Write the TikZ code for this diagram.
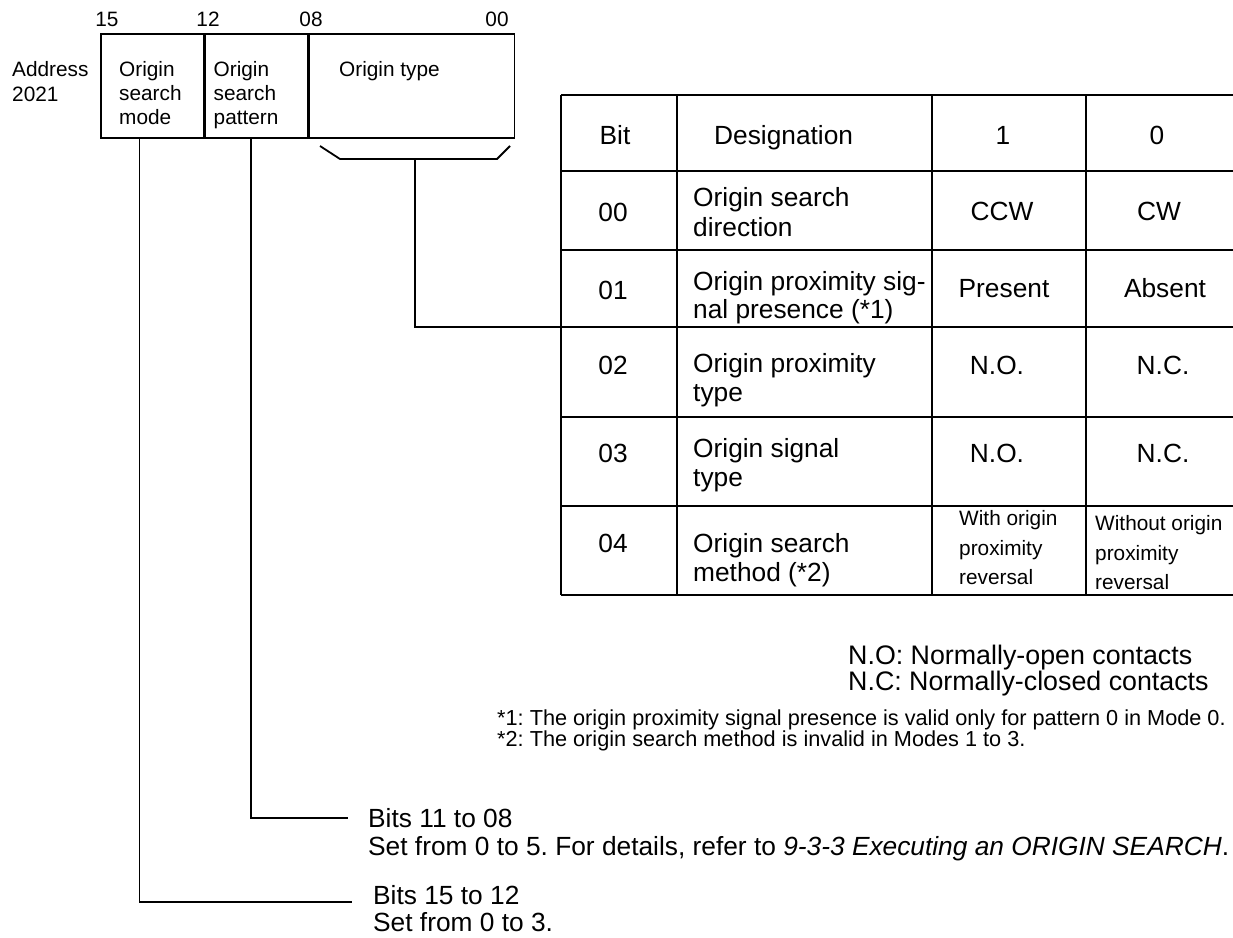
\documentclass[tikz,border=0pt]{standalone}
\usepackage{fontspec}
\setmainfont{Liberation Sans}
\frenchspacing
\newcommand{\regfont}{\fontsize{20.8}{24}\selectfont}
\newcommand{\tabfont}{\fontsize{26.3}{29}\selectfont}
\newcommand{\smallfont}{\fontsize{20.8}{29}\selectfont}
\newcommand{\legendfont}{\fontsize{26.8}{29}\selectfont}
\newcommand{\notefont}{\fontsize{21.7}{22}\selectfont}
\tikzset{
  txt/.style  = {anchor=base west, inner sep=0pt},
  ctxt/.style = {anchor=base, inner sep=0pt},
  rule/.style = {line width=1.8pt},
  field/.style = {draw, rule, anchor=north west, minimum height=104pt, inner sep=0pt}
}

\begin{document}
\begin{tikzpicture}[x=1pt,y=-1pt]
	\useasboundingbox (0,0) rectangle (1233,937);
	% register 2021
	\node[field, minimum width=102.5pt] (mode) at (100,33) {};
	\node[field, minimum width=102.5pt] (pattern) at (mode.north east) {};
	\node[field, minimum width=205pt] (type) at (pattern.north east) {};
	\begin{scope}[font=\regfont]
		\node[ctxt] (b15) at (107,26) {15};
		\node[ctxt] (b12) at (208,26) {12};
		\node[ctxt] (b08) at (311,26) {08};
		\node[ctxt] (b00) at (497,26) {00};
		\node[txt] (addr) at (12,76) {Address};
		\node[txt] (addrno) at (12,101) {2021};
		\foreach \t [count=\i from 0] in {Origin,search,mode}
			\node[txt] (modeln\i) at (119,76+24*\i) {\t};
		\foreach \t [count=\i from 0] in {Origin,search,pattern}
			\node[txt] (patln\i) at (213.5,76+24*\i) {\t};
		\node[txt] (typeln) at (339,76) {Origin type};
	\end{scope}
	% bracket under the origin type bits
	\coordinate (br1) at (320,146);
	\coordinate (br2) at (340,159);
	\coordinate (br3) at (497,159);
	\coordinate (br4) at (510,146);
	\coordinate (brtap) at (415,159);
	\draw[rule] (br1) -- (br2) -- (br3) -- (br4);
	% bit table
	\foreach \y in {95,171,250,327,417,506,595}
		\draw[rule] (561,\y) -- (1233,\y);
	\foreach \x in {561,677,932,1086}
		\draw[rule] (\x,95) -- (\x,595);
	\coordinate (tabjoin) at (561,327);
	\draw[rule] (brtap) |- (tabjoin);
	\begin{scope}[font=\tabfont]
		\node[ctxt] (hbit) at (615,144) {Bit};
		\node[txt] (hdes) at (714,144) {Designation};
		\node[ctxt] (hone) at (1003,144) {1};
		\node[ctxt] (hzero) at (1157,144) {0};
		\foreach \b/\y in {00/221,01/299,02/374,03/462,04/552}
			\node[ctxt] (bit\b) at (613,\y) {\b};
		\node[txt] (d00a) at (693,206) {Origin search};
		\node[txt] (d00b) at (693,236) {direction};
		\node[txt] (d01a) at (693,290) {Origin proximity sig-};
		\node[txt] (d01b) at (693,318) {nal presence (*1)};
		\node[txt] (d02a) at (693,372) {Origin proximity};
		\node[txt] (d02b) at (693,401) {type};
		\node[txt] (d03a) at (693,457) {Origin signal};
		\node[txt] (d03b) at (693,486) {type};
		\node[txt] (d04a) at (693,552) {Origin search};
		\node[txt] (d04b) at (693,581) {method (*2)};
		\node[ctxt] (s00) at (1002,220) {CCW};
		\node[ctxt] (c00) at (1159,220) {CW};
		\node[ctxt] (s01) at (1004,297) {Present};
		\node[ctxt] (c01) at (1165,297) {Absent};
		\node[ctxt] (s02) at (997,374) {N.O.};
		\node[ctxt] (c02) at (1163,374) {N.C.};
		\node[ctxt] (s03) at (997,462) {N.O.};
		\node[ctxt] (c03) at (1163,462) {N.C.};
	\end{scope}
	\begin{scope}[font=\smallfont]
		\foreach \t [count=\i from 0] in {With origin,proximity,reversal}
			\node[txt] (s04ln\i) at (959,525.5+29.5*\i) {\t};
		\foreach \t [count=\i from 0] in {Without origin,proximity,reversal}
			\node[txt] (c04ln\i) at (1095,530.5+29.5*\i) {\t};
	\end{scope}
	% legend and notes
	\node[txt, font=\legendfont] (nolbl) at (848,664) {N.O: Normally-open contacts};
	\node[txt, font=\legendfont] (nclbl) at (848,690) {N.C: Normally-closed contacts};
	\node[txt, font=\notefont] (note1) at (497,725) {*1: The origin proximity signal presence is valid only for pattern 0 in Mode 0.};
	\node[txt, font=\notefont] (note2) at (497,746) {*2: The origin search method is invalid in Modes 1 to 3.};
	% leaders for bits 15-12 and 11-08
	\coordinate (modetap) at (139.5,137);
	\coordinate (pattap) at (251,137);
	\coordinate (modeend) at (352,902);
	\coordinate (patend) at (348,818);
	\draw[rule] (modetap) |- (modeend);
	\draw[rule] (pattap) |- (patend);
	\begin{scope}[font=\tabfont]
		\node[txt] (pat1) at (368,827) {Bits 11 to 08};
		\node[txt] (pat2) at (368,855) {Set from 0 to 5. For details, refer to \textit{9-3-3 Executing an ORIGIN SEARCH}.};
		\node[txt] (mode1) at (373,904) {Bits 15 to 12};
		\node[txt] (mode2) at (373,931) {Set from 0 to 3.};
	\end{scope}
\end{tikzpicture}
\end{document}
